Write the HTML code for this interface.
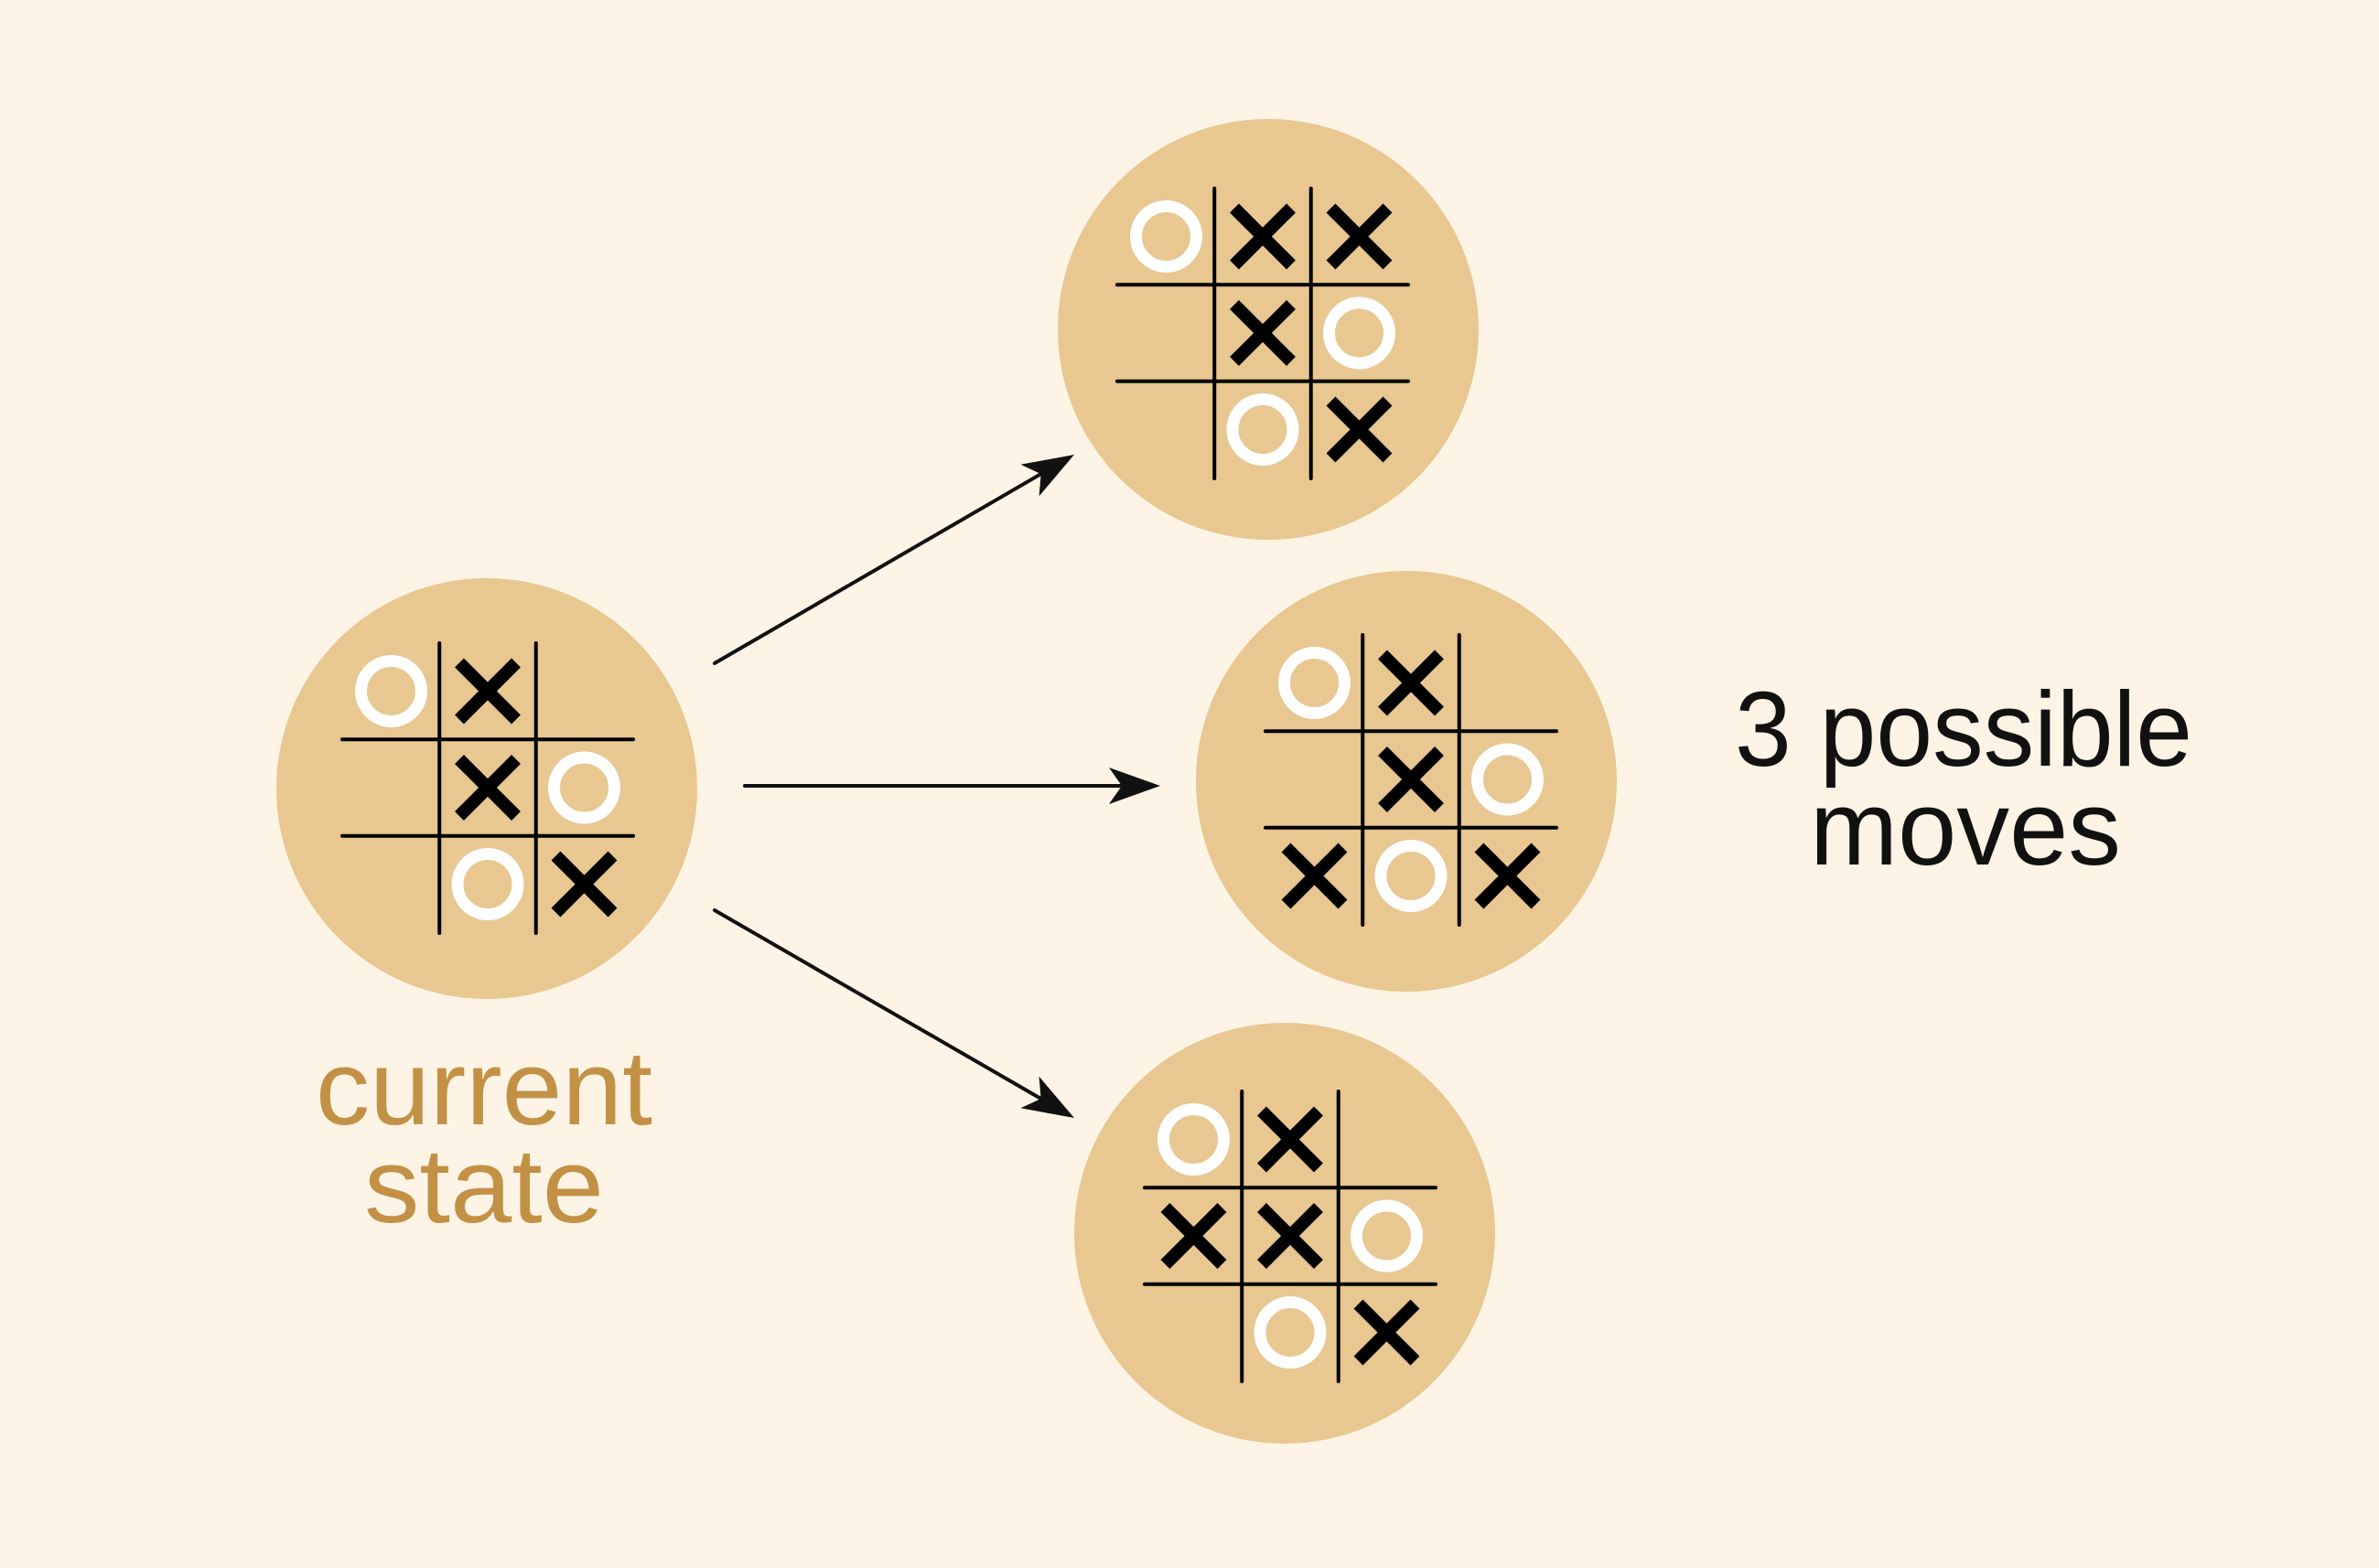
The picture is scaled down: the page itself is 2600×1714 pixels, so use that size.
<!DOCTYPE html>
<html><head><meta charset="utf-8"><style>
html,body{margin:0;padding:0;background:#fef4e6;}
svg{display:block;}
text{font-family:"Liberation Sans",sans-serif;}
</style></head><body>
<svg id="chart" width="2600" height="1714" viewBox="0 0 2600 1714" xmlns="http://www.w3.org/2000/svg">
<rect x="0" y="0" width="2600" height="1714" fill="#fef4e6"/>
<g id="arrows"></g>
<g id="boards"></g>
<text x="529" y="1229" text-anchor="middle" font-size="116" fill="#c39145" textLength="368" lengthAdjust="spacingAndGlyphs">current</text>
<text x="529" y="1336" text-anchor="middle" font-size="116" fill="#c39145" textLength="262" lengthAdjust="spacingAndGlyphs">state</text>
<text x="2146" y="837" text-anchor="middle" font-size="116" fill="#111" textLength="500" lengthAdjust="spacingAndGlyphs">3 possible</text>
<text x="2148" y="945" text-anchor="middle" font-size="116" fill="#111" textLength="340" lengthAdjust="spacingAndGlyphs">moves</text>
</svg>
<script>
const boardNames = ['current-state', 'move-1', 'move-2', 'move-3'];
const boardCells = [
  'OX_/_XO/_OX',
  'OXX/_XO/_OX',
  'OX_/_XO/XOX',
  'OX_/XXO/_OX'
];
const circleCenters = [[532,862],[1386,360],[1537,854],[1404,1348]];
const gridCenters = [[533,861],[1380,364],[1542,852],[1410,1351]];
const arrowStarts = [[781,725],[814,859],[781,995]];
const arrowEnds = [[1174,497],[1268,859],[1174,1222]];

const NS = 'http://www.w3.org/2000/svg';
const cell = 105.5, R = 230;
function mk(tag, attrs, parent){const e=document.createElementNS(NS,tag);for(const k in attrs)e.setAttribute(k,attrs[k]);parent.appendChild(e);return e;}
const boardsG = document.getElementById('boards');
boardCells.forEach((b, i) => {
  const g = mk('g', {}, boardsG);
  
  
  const [cx, cy] = circleCenters[i];
  const c = mk('circle', {cx, cy, r: R, fill: '#e8c791'}, g);
  
  
  const [gx, gy] = gridCenters[i];
  for (const d of [-0.5, 0.5]) {
    const v = mk('line', {x1: gx + d*cell, y1: gy - 158, x2: gx + d*cell, y2: gy + 159, stroke: '#000', 'stroke-width': 4, 'stroke-linecap': 'round'}, g);
    
    
    const h = mk('line', {x1: gx - 159, y1: gy + d*cell, x2: gx + 159, y2: gy + d*cell, stroke: '#000', 'stroke-width': 4, 'stroke-linecap': 'round'}, g);
    
    
  }
  b.split('/').forEach((row, r) => {
    [...row].forEach((m, col) => {
      const x = gx + (col - 1) * cell, y = gy + (r - 1) * cell;
      if (m === 'O') {
        const o = mk('circle', {cx: x, cy: y, r: 33, fill: 'none', stroke: '#fff', 'stroke-width': 13}, g);
        
        
      } else if (m === 'X') {
        const s = 31;
        const p = mk('path', {d: `M${x-s} ${y-s}L${x+s} ${y+s}M${x+s} ${y-s}L${x-s} ${y+s}`, stroke: '#000', 'stroke-width': 14, fill: 'none'}, g);
        
        
      }
    });
  });
});
const arrowsG = document.getElementById('arrows');
arrowStarts.forEach((s, i) => {
  const e = arrowEnds[i];
  const g = mk('g', {}, arrowsG);
  
  
  const dx = e[0]-s[0], dy = e[1]-s[1], L = Math.hypot(dx, dy), ux = dx/L, uy = dy/L, px = -uy, py = ux;
  const back = 56, notch = 42, hw = 20;
  const l = mk('line', {x1: s[0], y1: s[1], x2: e[0]-ux*notch, y2: e[1]-uy*notch, stroke: '#111', 'stroke-width': 4, 'stroke-linecap': 'round'}, g);
  
  
  const bx = e[0]-ux*back, by = e[1]-uy*back, nx = e[0]-ux*notch, ny = e[1]-uy*notch;
  const h = mk('polygon', {points: `${e[0]},${e[1]} ${bx+px*hw},${by+py*hw} ${nx},${ny} ${bx-px*hw},${by-py*hw}`, fill: '#111'}, g);
  
  
});
</script>
</body></html>
